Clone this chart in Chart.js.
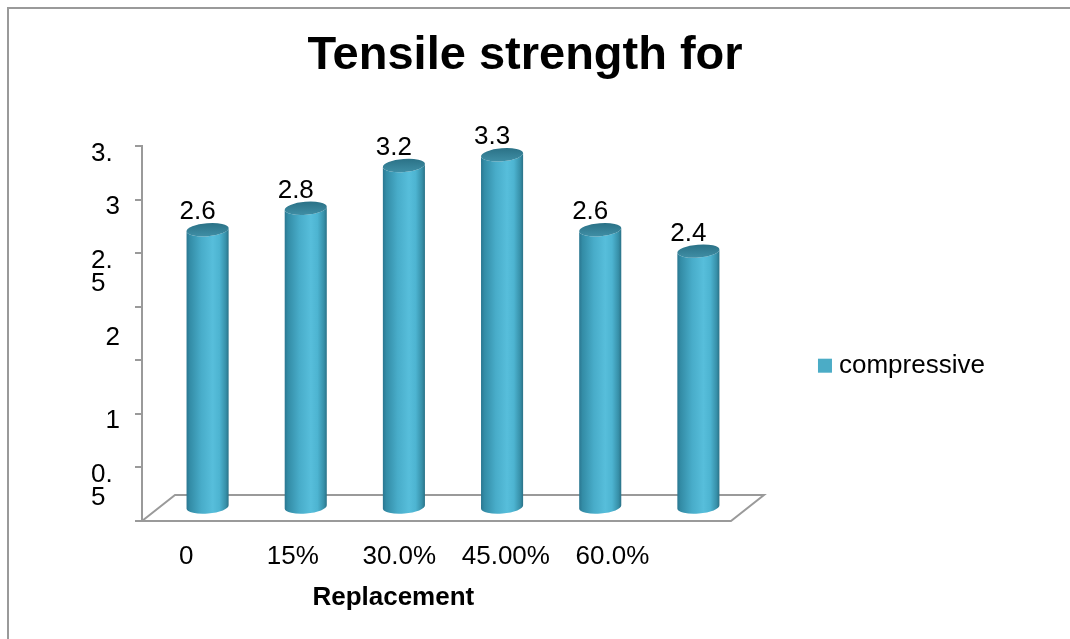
<!DOCTYPE html>
<html>
<head>
<meta charset="utf-8">
<title>Tensile strength for</title>
<script src="https://cdn.jsdelivr.net/npm/chart.js@4.4.1/dist/chart.umd.min.js"></script>
<style>
  html, body { margin: 0; padding: 0; background: #fff; overflow: hidden; }
  #wrap { position: relative; width: 1070px; height: 639px; }
  #frame { position: absolute; left: 7px; top: 7px; width: 1100px; height: 700px;
           border-top: 2px solid #9a9a9a; border-left: 2px solid #9a9a9a; }
  canvas { position: absolute; left: 0; top: 0; }
</style>
</head>
<body>
<div id="wrap">
  <div id="frame"></div>
  <canvas id="chart" width="1070" height="639"></canvas>
</div>
<script>
// ---- data ----
const categories = ['0', '15%', '30.0%', '45.00%', '60.0%', ''];
const tensile = [2.6, 2.8, 3.2, 3.3, 2.6, 2.4];
const seriesName = 'compressive';
const yTickValues = [0, 0.5, 1, 1.5, 2, 2.5, 3, 3.5];
// value-axis labels wrap inside a narrow, left-leaning label box
const yTickLabels = ['', ['', '0. ', '5  '], '1', '', ['', '', '2'], ['', '2. ', '5  '], '3', '3. '];

// ---- styling ----
const SERIES_COLOR = '#4bacc6';
const AXIS_GREY = '#9a9a9a';
const FONT = "'Liberation Sans', Arial, sans-serif";
const LABEL_SIZE = 26;
const DEPTH = { x: 33, y: -26 };   // depth of the 3-D floor

// floor under the columns, drawn before them so they hide its back edge
const floorPlugin = {
  id: 'floor',
  beforeDatasetsDraw(chart) {
    const { ctx, scales } = chart;
    const y0 = scales.y.getPixelForValue(0);
    const left = scales.x.getPixelForValue(-0.5);
    const right = scales.x.getPixelForValue(categories.length - 0.5);
    ctx.save();
    ctx.strokeStyle = AXIS_GREY;
    ctx.lineWidth = 2;
    ctx.beginPath();
    ctx.moveTo(left, y0);
    ctx.lineTo(left + DEPTH.x, y0 + DEPTH.y);
    ctx.lineTo(right + DEPTH.x, y0 + DEPTH.y);
    ctx.lineTo(right, y0);
    ctx.closePath();
    ctx.stroke();
    ctx.restore();
  }
};

// each bar element is rendered as a shaded cylinder standing mid-depth on the floor
const cylinderPlugin = {
  id: 'cylinders',
  afterDatasetsDraw(chart) {
    const { ctx } = chart;
    const meta = chart.getDatasetMeta(0);
    ctx.save();
    meta.data.forEach((bar, i) => {
      const { x, y, base, width } = bar.getProps(['x', 'y', 'base', 'width'], true);
      const cx = x + DEPTH.x / 2;
      const topY = y + DEPTH.y / 2;
      const botY = base + DEPTH.y / 2;
      const rx = width / 2, ry = 6.5, tilt = -0.08;
      const c = Math.cos(tilt), s = Math.sin(tilt);

      const body = ctx.createLinearGradient(cx - rx, 0, cx + rx, 0);
      body.addColorStop(0, '#2a7690');
      body.addColorStop(0.08, '#338ca6');
      body.addColorStop(0.35, '#48acc9');
      body.addColorStop(0.62, '#57bedb');
      body.addColorStop(0.78, '#4db4d1');
      body.addColorStop(0.93, '#3790a9');
      body.addColorStop(1, '#2a7186');

      ctx.beginPath();
      ctx.moveTo(cx - rx * c, topY - rx * s);
      ctx.lineTo(cx - rx * c, botY - rx * s);
      ctx.ellipse(cx, botY, rx, ry, tilt, Math.PI, 0, true);
      ctx.lineTo(cx + rx * c, topY + rx * s);
      ctx.ellipse(cx, topY, rx, ry, tilt, 0, Math.PI, false);
      ctx.closePath();
      ctx.fillStyle = body;
      ctx.fill();

      const cap = ctx.createLinearGradient(0, topY - ry, 0, topY + ry);
      cap.addColorStop(0, '#2b7287');
      cap.addColorStop(1, '#3f8ea5');
      ctx.beginPath();
      ctx.ellipse(cx, topY, rx, ry, tilt, 0, Math.PI * 2);
      ctx.fillStyle = cap;
      ctx.fill();

      // value label above the cap
      ctx.fillStyle = '#000';
      ctx.font = `${LABEL_SIZE}px ${FONT}`;
      ctx.textAlign = 'center';
      ctx.textBaseline = 'alphabetic';
      ctx.fillText(String(tensile[i]), cx - 10, topY - ry - 4);
    });
    ctx.restore();
  }
};

// axis title under the labelled categories, and the series key on the right
const keyPlugin = {
  id: 'key',
  afterDraw(chart) {
    const { ctx, chartArea, scales } = chart;
    ctx.save();
    const labelled = categories.filter(c => c !== '').length;
    ctx.fillStyle = '#000';
    ctx.font = `bold ${LABEL_SIZE}px ${FONT}`;
    ctx.textAlign = 'center';
    ctx.textBaseline = 'middle';
    ctx.fillText('Replacement', scales.xl.getPixelForValue((labelled - 1) / 2) - 6, chartArea.bottom + 77);

    const ds = chart.data.datasets[0];
    const lx = scales.x.getPixelForValue(categories.length - 0.5) + 87;
    const ly = (chartArea.top + chartArea.bottom) / 2 + 32;
    ctx.fillStyle = SERIES_COLOR;
    ctx.fillRect(lx, ly - 7, 14, 14);
    ctx.fillStyle = '#000';
    ctx.textAlign = 'left';
    ctx.font = `${LABEL_SIZE}px ${FONT}`;
    ctx.fillText(ds.label, lx + 21, ly);
    ctx.restore();
  }
};

new Chart(document.getElementById('chart'), {
  type: 'bar',
  data: {
    datasets: [{
      label: seriesName,
      data: tensile.map((v, i) => ({ x: i, y: v })),
      backgroundColor: 'rgba(0,0,0,0)',
      borderWidth: 0,
      categoryPercentage: 1,
      barPercentage: 0.43
    }]
  },
  options: {
    responsive: false,
    animation: false,
    devicePixelRatio: 1,
    layout: { padding: { left: 0, right: 20, top: 0, bottom: 0 } },
    plugins: {
      legend: { display: false },
      tooltip: { enabled: false },
      title: {
        display: true,
        text: 'Tensile strength for',
        color: '#000',
        font: { family: FONT, size: 47, weight: 'bold', lineHeight: 1.2 },
        padding: { top: 28, bottom: 62 }
      }
    },
    scales: {
      x: {
        type: 'linear', display: false, offset: false,
        min: -0.5, max: 8.75,
        grid: { offset: false },
        ticks: { stepSize: 1, includeBounds: false }
      },
      xl: {
        type: 'linear',
        position: 'bottom',
        offset: false,
        min: -0.415,
        max: 8.107,
        grid: { display: false, drawTicks: false, offset: false },
        border: { display: false },
        ticks: {
          stepSize: 1,
          includeBounds: false,
          autoSkip: false,
          maxRotation: 0,
          padding: 20,
          color: '#000',
          font: { family: FONT, size: LABEL_SIZE },
          callback: v => categories[v] ?? ''
        },
        afterFit: s => { s.height = 118; }
      },
      y: {
        min: 0,
        max: 3.5,
        ticks: {
          stepSize: 0.5,
          autoSkip: false,
          padding: 15,
          labelOffset: 7,
          color: '#000',
          font: { family: FONT, size: LABEL_SIZE, lineHeight: 0.9 },
          callback: v => yTickLabels[yTickValues.indexOf(v)] ?? ''
        },
        grid: { drawOnChartArea: false, drawTicks: true, tickLength: 7, color: AXIS_GREY, lineWidth: 2 },
        border: { display: true, color: AXIS_GREY, width: 2 },
        afterFit: s => { s.width = 142; }
      }
    }
  },
  plugins: [floorPlugin, cylinderPlugin, keyPlugin]
});
</script>
</body>
</html>
